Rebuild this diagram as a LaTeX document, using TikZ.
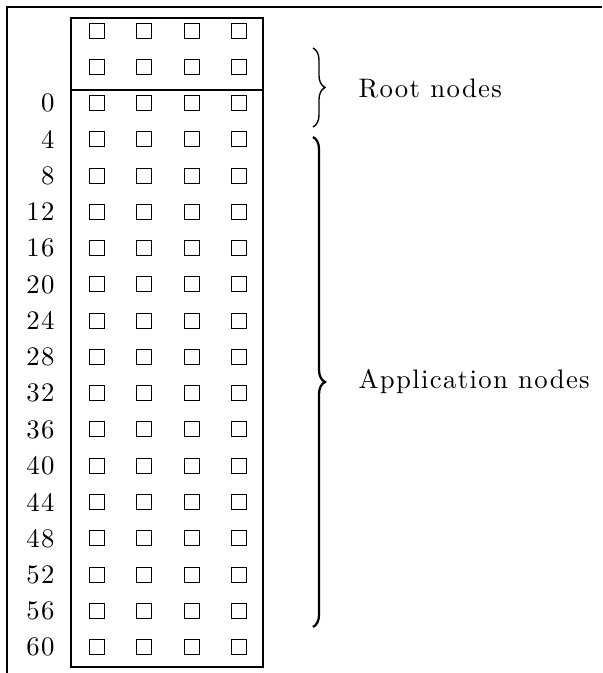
\documentclass[tikz,border=0pt]{standalone}
\usepackage{fontspec}
\setmainfont{Latin Modern Roman}[LetterSpace=5]
\usetikzlibrary{positioning,decorations.pathreplacing}

\begin{document}
\begin{tikzpicture}[x=0.4pt,y=-0.4pt,font=\fontsize{10.7}{12}\selectfont,
                    cell/.style={draw,line width=0.4pt,minimum size=6pt,inner sep=0pt},
                    row label/.style={inner sep=0pt},
                    group label/.style={anchor=base west,inner sep=0pt},
                    group brace/.style={decorate,decoration={brace,amplitude=4.8pt}}]

  \useasboundingbox (0,0) rectangle (602,673);
  % frame corner
  \draw[line width=0.9pt] (7,673) -- (7,7) -- (602,7);

  % the memory block
  \node[draw,line width=0.95pt,minimum width=76.8pt,minimum height=259.6pt,inner sep=0pt] (block) at (167,342.5) {};
  \coordinate (split) at (167,90);
  \draw[line width=0.65pt] (block.west |- split) -- (block.east |- split);

  \foreach \r in {0,...,17}
    \foreach \c in {0,...,3}
      \node[cell] (c-\r-\c) at ({97+47.3*\c},{30.5+36.27*\r}) {};

  % addresses
  \foreach \r [evaluate=\r as \n using int(4*(\r-2))] in {2,...,17}
    \node[row label,anchor=east,left=13.6pt of c-\r-0] (a-\n) {\n};

  % groups
  \coordinate (root top) at (313,48);
  \coordinate (root bot) at (313,127);
  \coordinate (app top) at (313,137);
  \coordinate (app bot) at (313,627);
  \draw[group brace,line width=0.55pt] (root top) -- (root bot);
  \draw[group brace,line width=0.9pt] (app top) -- (app bot);

  \node[group label] (root) at (358,97) {Root nodes};
  \node[group label] (app) at (358,388) {Application nodes};
\end{tikzpicture}
\end{document}
